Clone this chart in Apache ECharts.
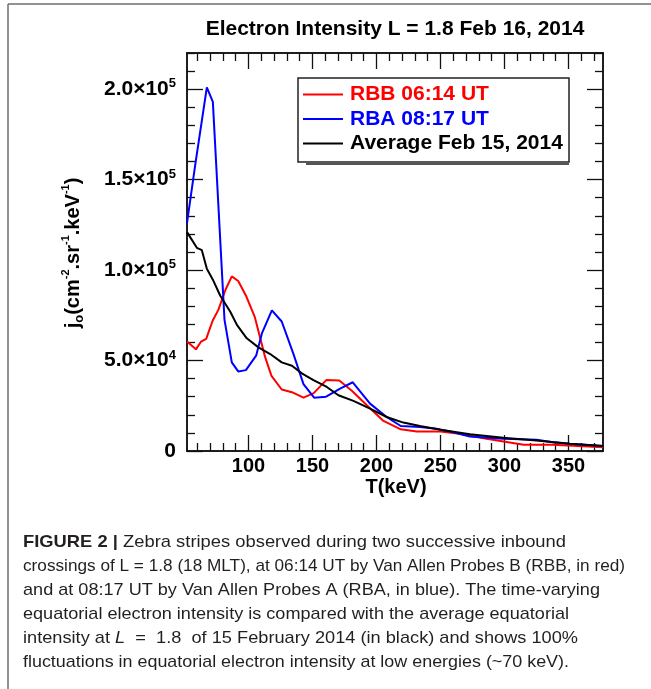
<!DOCTYPE html>
<html>
<head>
<meta charset="utf-8">
<script src="https://cdn.jsdelivr.net/npm/echarts@6/dist/echarts.min.js"></script>
<style>
  html, body { margin: 0; padding: 0; background: #ffffff; }
  #chart { width: 651px; height: 689px; }
</style>
</head>
<body>
<div id="chart"></div>
<script>
// Electron energy (keV) and equatorial intensity j_o (cm^-2 sr^-1 keV^-1)
const energyRBB = [52, 59, 63, 67, 72, 76.5, 82, 87, 92, 98, 105, 109, 113, 118, 126, 134, 143, 151, 161, 171, 181, 192.5, 205.5, 219, 231.5, 250, 265, 286, 315, 338, 377];
const intensityRBB = [60500, 56200, 60500, 62000, 72000, 78000, 89000, 96500, 94000, 86000, 74000, 63000, 52000, 41500, 34000, 32500, 29500, 32000, 39300, 39000, 33200, 25300, 16600, 12000, 10800, 10800, 9500, 6800, 3400, 3400, 2100];

const energyRBA = [52, 58.4, 67.5, 72.2, 81.3, 87, 92, 98, 106, 110.5, 118.3, 126, 135, 143, 151.3, 160.7, 171.6, 181.5, 195, 207, 219, 234, 247, 260, 273, 299, 325, 338, 351, 377];
const intensityRBA = [126000, 158000, 201000, 193000, 72500, 49000, 44000, 44700, 52700, 65000, 77700, 71600, 54000, 37000, 29500, 30000, 34500, 38000, 26200, 19300, 13800, 13200, 12300, 10400, 8000, 6800, 6200, 4900, 4000, 2700];

const energyAvg = [52, 59.7, 63.6, 67.5, 72.2, 78, 85.7, 91, 98.7, 107.8, 117, 126, 134, 141.7, 150.8, 161.2, 170.3, 182, 195, 208, 221, 234, 250, 273, 299, 325, 351, 377];
const intensityAvg = [121000, 112300, 111000, 100700, 94700, 85800, 77100, 69700, 62300, 57300, 53600, 49000, 47100, 42900, 39200, 35400, 30800, 27700, 23400, 18800, 15700, 13800, 11800, 9200, 7300, 5800, 4000, 2700];

const seriesNames = ['RBB 06:14 UT', 'RBA 08:17 UT', 'Average Feb 15, 2014'];
const seriesColors = ['#ff0000', '#0000ff', '#000000'];

// Axis ticks and labels
const xRange = [52, 377];
const xMajorTicks = [100, 150, 200, 250, 300, 350];
const xMinorTicks = [60, 70, 80, 90, 110, 120, 130, 140, 160, 170, 180, 190, 210, 220, 230, 240, 260, 270, 280, 290, 310, 320, 330, 340, 360, 370];
const yRange = [0, 220000];
const yMajorTicks = [0, 50000, 100000, 150000, 200000];
const yMinorTicks = [10000, 20000, 30000, 40000, 60000, 70000, 80000, 90000, 110000, 120000, 130000, 140000, 160000, 170000, 180000, 190000, 210000, 220000];
const yLabelMantissa = ['0', '5.0', '1.0', '1.5', '2.0'];
const yLabelExponent = ['', '4', '5', '5', '5'];

const titleText = 'Electron Intensity L = 1.8 Feb 16, 2014';
const xAxisTitle = 'T(keV)';
const captionLines = [
  '{b|FIGURE 2 |} Zebra stripes observed during two successive inbound',
  'crossings of L = 1.8 (18 MLT), at 06:14 UT by Van Allen Probes B (RBB, in red)',
  'and at 08:17 UT by Van Allen Probes A (RBA, in blue). The time-varying',
  'equatorial electron intensity is compared with the average equatorial',
  'intensity at {i|L}  =  1.8  of 15 February 2014 (in black) and shows 100%',
  'fluctuations in equatorial electron intensity at low energies (~70 keV).'
];
// right edge of each caption line
const captionRightEdge = [566, 625, 600, 569, 578, 569];

const FONT = 'Liberation Sans, Arial, Helvetica, sans-serif';
const AXIS_COLOR = '#111111';
const CAPTION_SIZE = 17;
const CAPTION_LEFT = 23;

const chart = echarts.init(document.getElementById('chart'), null, { renderer: 'canvas' });

function makeX(position, values, len, showLabel) {
  return {
    type: 'value', position: position, min: xRange[0], max: xRange[1],
    axisLine: { show: true, onZero: false, lineStyle: { color: AXIS_COLOR, width: 1.5 } },
    axisTick: { show: true, inside: true, length: len, customValues: values, lineStyle: { color: AXIS_COLOR, width: 1.3 } },
    axisLabel: showLabel ? {
      show: true, customValues: xMajorTicks, margin: 5,
      fontFamily: FONT, fontWeight: 'bold', fontSize: 20, color: '#000'
    } : { show: false },
    splitLine: { show: false }
  };
}
function makeY(position, values, len, showLabel) {
  return {
    type: 'value', position: position, min: yRange[0], max: yRange[1],
    axisLine: { show: true, onZero: false, lineStyle: { color: AXIS_COLOR, width: 1.5 } },
    axisTick: { show: true, inside: true, length: len, customValues: values, lineStyle: { color: AXIS_COLOR, width: 1.3 } },
    axisLabel: showLabel ? {
      show: true, customValues: yMajorTicks, margin: 11,
      formatter: function (v) {
        const i = yMajorTicks.indexOf(v);
        if (i < 0) return '';
        return yLabelExponent[i] ? '{m|' + yLabelMantissa[i] + '×10}{s|' + yLabelExponent[i] + '}' : '{m|' + yLabelMantissa[i] + '}';
      },
      rich: {
        m: { fontFamily: FONT, fontWeight: 'bold', fontSize: 21, color: '#000', lineHeight: 24 },
        s: { fontFamily: FONT, fontWeight: 'bold', fontSize: 13, color: '#000', verticalAlign: 'top', lineHeight: 13 }
      }
    } : { show: false },
    splitLine: { show: false }
  };
}

const series = [
  [energyRBB, intensityRBB],
  [energyRBA, intensityRBA],
  [energyAvg, intensityAvg]
].map(function (pair, k) {
  return {
    name: seriesNames[k], type: 'line', xAxisIndex: 0, yAxisIndex: 0,
    data: pair[0].map(function (e, i) { return [e, pair[1][i]]; }),
    showSymbol: false, symbol: 'none', smooth: false, clip: true,
    lineStyle: { color: seriesColors[k], width: 2 },
    itemStyle: { color: seriesColors[k] },
    z: 3 + k
  };
});

// measure a caption line (with its bold / italic runs) to fit it to its right edge
const measureCtx = document.createElement('canvas').getContext('2d');
function captionWidth(line) {
  let w = 0;
  const re = /\{(\w)\|([^}]*)\}|([^{]+)/g;
  let m;
  while ((m = re.exec(line))) {
    if (m[1]) {
      const weight = m[1] === 'b' ? 'bold ' : '';
      const style = m[1] === 'i' ? 'italic ' : '';
      measureCtx.font = style + weight + CAPTION_SIZE + 'px ' + FONT;
      w += measureCtx.measureText(m[2]).width;
    } else {
      measureCtx.font = CAPTION_SIZE + 'px ' + FONT;
      w += measureCtx.measureText(m[3]).width;
    }
  }
  return w;
}

const captionGraphics = captionLines.map(function (line, i) {
  const sx = (captionRightEdge[i] - CAPTION_LEFT) / captionWidth(line);
  return {
    type: 'text', x: CAPTION_LEFT, y: 542 + i * 24, scaleX: sx, scaleY: 1, silent: true,
    style: {
      text: line, fill: '#231f20', verticalAlign: 'middle', align: 'left',
      font: CAPTION_SIZE + 'px ' + FONT,
      rich: {
        b: { fontFamily: FONT, fontWeight: 'bold', fontSize: CAPTION_SIZE, fill: '#231f20' },
        i: { fontFamily: FONT, fontStyle: 'italic', fontSize: CAPTION_SIZE, fill: '#231f20' }
      }
    }
  };
});

const option = {
  backgroundColor: '#ffffff',
  animation: false,
  grid: { left: 187, top: 53, right: 48, bottom: 238, containLabel: false },
  xAxis: [
    makeX('bottom', xMajorTicks, 16, true),
    makeX('bottom', xMinorTicks, 8, false),
    makeX('top', xMajorTicks, 16, false),
    makeX('top', xMinorTicks, 8, false)
  ],
  yAxis: [
    makeY('left', yMajorTicks, 16, true),
    makeY('left', yMinorTicks, 8, false),
    makeY('right', yMajorTicks, 16, false),
    makeY('right', yMinorTicks, 8, false)
  ],
  legend: {
    orient: 'vertical', left: 303, top: 84, padding: 0,
    itemWidth: 40, itemHeight: 2, itemGap: 3.5, icon: 'rect',
    selectedMode: false,
    textStyle: { fontFamily: FONT, fontWeight: 'bold', fontSize: 21, padding: [0, 0, 0, 2] },
    data: seriesNames.map(function (n, k) {
      return { name: n, textStyle: { color: seriesColors[k] } };
    })
  },
  series: series,
  graphic: [
    // outer frame
    { type: 'line', silent: true, shape: { x1: 8, y1: 4, x2: 8, y2: 689 }, style: { stroke: '#6e6e6e', lineWidth: 1.5 } },
    { type: 'line', silent: true, shape: { x1: 8, y1: 4, x2: 651, y2: 4 }, style: { stroke: '#6e6e6e', lineWidth: 1.5 } },
    // title
    {
      type: 'text', x: 395, y: 29, silent: true,
      style: { text: titleText, align: 'center', verticalAlign: 'middle', fill: '#000', font: 'bold 21px ' + FONT }
    },
    // legend frame
    { type: 'line', silent: true, z: 1, shape: { x1: 306, y1: 164, x2: 569, y2: 164 }, style: { stroke: '#555', lineWidth: 2 } },
    { type: 'rect', silent: true, z: 2, shape: { x: 298, y: 78, width: 271, height: 84 }, style: { fill: '#ffffff', stroke: '#222', lineWidth: 1.5 } },
    // x axis title
    {
      type: 'text', x: 396, y: 487, silent: true,
      style: { text: xAxisTitle, align: 'center', verticalAlign: 'middle', fill: '#000', font: 'bold 20px ' + FONT }
    },
    // y axis title
    {
      type: 'text', x: 73, y: 253, rotation: Math.PI / 2, silent: true,
      style: {
        text: '{a|j}{b|o}{a|(cm}{c|-2}{a|.sr}{c|-1}{a|.keV}{c|-1}{a|)}',
        align: 'center', verticalAlign: 'middle',
        rich: {
          a: { fontFamily: FONT, fontWeight: 'bold', fontSize: 20, fill: '#000', lineHeight: 26 },
          b: { fontFamily: FONT, fontWeight: 'bold', fontSize: 13, fill: '#000', verticalAlign: 'bottom', lineHeight: 14 },
          c: { fontFamily: FONT, fontWeight: 'bold', fontSize: 11, fill: '#000', verticalAlign: 'top', lineHeight: 13 }
        }
      }
    }
  ].concat(captionGraphics)
};

chart.setOption(option);
</script>
</body>
</html>
